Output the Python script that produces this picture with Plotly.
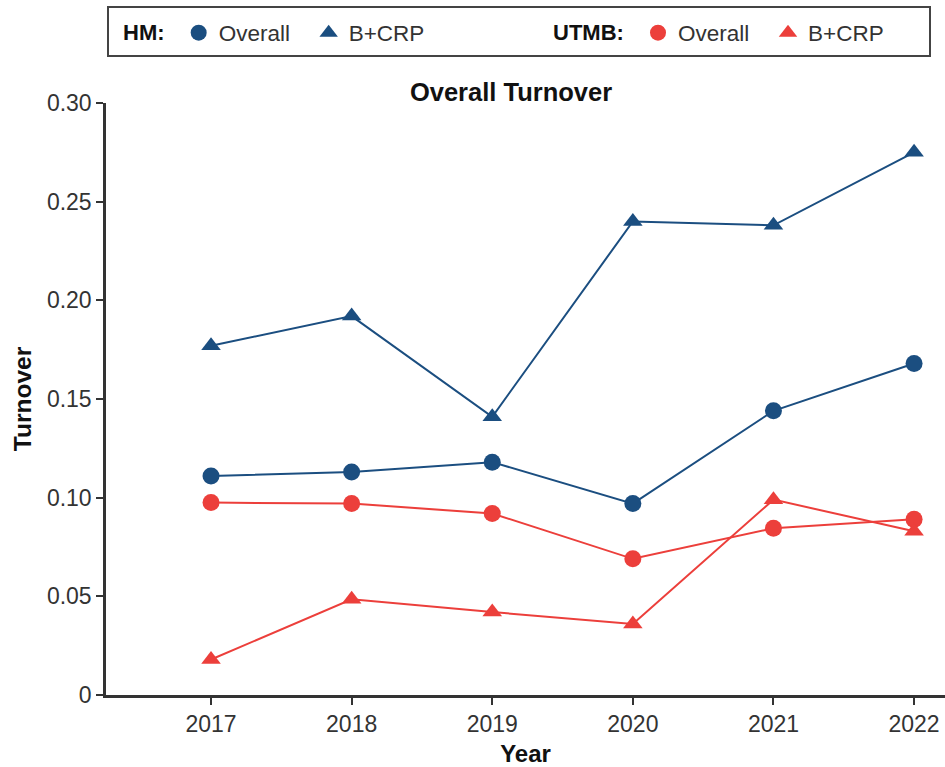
import plotly.graph_objects as go

years = [2017, 2018, 2019, 2020, 2021, 2022]
hm_overall = [0.111, 0.113, 0.118, 0.097, 0.144, 0.168]
hm_bcrp = [0.177, 0.192, 0.141, 0.240, 0.238, 0.275]
utmb_overall = [0.0975, 0.097, 0.092, 0.069, 0.0845, 0.089]
utmb_bcrp = [0.018, 0.0485, 0.042, 0.036, 0.099, 0.083]

y_ticks = [0, 0.05, 0.10, 0.15, 0.20, 0.25, 0.30]
y_ticktext = ["0", "0.05", "0.10", "0.15", "0.20", "0.25", "0.30"]

BLUE = "#1b4e80"
RED = "#ec3f3b"
FONT = "Liberation Sans, Arial, sans-serif"
MS = 17

series = [
    ("Overall", hm_overall, BLUE, "circle", "legend"),
    ("B+CRP", hm_bcrp, BLUE, "triangle-up", "legend"),
    ("Overall", utmb_overall, RED, "circle", "legend2"),
    ("B+CRP", utmb_bcrp, RED, "triangle-up", "legend2"),
]

fig = go.Figure()
for name, vals, color, sym, lg in series:
    fig.add_trace(go.Scatter(x=years, y=vals, name=name, mode="lines+markers",
                             line=dict(color=color, width=2),
                             marker=dict(symbol=sym, size=MS, color=color),
                             showlegend=False, cliponaxis=False))
# legend entries (markers only, as in the reference)
for name, vals, color, sym, lg in series:
    fig.add_trace(go.Scatter(x=[None], y=[None], name=name, mode="markers",
                             marker=dict(symbol=sym, size=MS, color=color),
                             showlegend=True, legend=lg))

L, R, T, B = 106, 0, 103, 72
W, H = 945, 767
pw = W - L - R
ph = H - T - B

def px_x(px):
    return (px - L) / pw

def px_y(py):
    return 1 + (T - py) / ph

legend_common = dict(orientation="h", font=dict(family=FONT, size=22.5, color="#333333"),
                     bgcolor="rgba(0,0,0,0)", borderwidth=0, yanchor="middle",
                     itemsizing="trace", tracegroupgap=0, traceorder="normal",
                     entrywidth=85)

NB = "\u00a0"

fig.update_layout(
    width=W, height=H,
    margin=dict(l=L, r=R, t=T, b=B),
    paper_bgcolor="white", plot_bgcolor="white",
    font=dict(family=FONT, size=22, color="#333333"),
    showlegend=True,
    legend=dict(**legend_common, x=px_x(121), y=px_y(33), xanchor="left",
                title=dict(text="<b>HM:</b>" + NB, side="left",
                           font=dict(family=FONT, size=22, color="#111111"))),
    legend2=dict(**legend_common, x=px_x(551), y=px_y(33), xanchor="left",
                 title=dict(text="<b>UTMB:</b>" + NB, side="left",
                            font=dict(family=FONT, size=22, color="#111111"))),
    title=dict(text="<b>Overall Turnover</b>", x=px_x(511), xref="paper", xanchor="center",
               y=1 - 92 / H, yref="container", yanchor="middle",
               font=dict(family=FONT, size=25.5, color="#111111")),
    xaxis=dict(range=[2016.253, 2022.22], tickvals=years, ticktext=[str(y) for y in years],
               showgrid=False, zeroline=False, showline=True, linecolor="#333333", linewidth=2.5,
               ticks="outside", ticklen=7, tickwidth=2, tickcolor="#333333",
               tickfont=dict(family=FONT, size=23, color="#333333"),
               title=dict(text="<b>Year</b>", standoff=11,
                          font=dict(family=FONT, size=24, color="#111111"))),
    yaxis=dict(range=[0, 0.30], tickvals=y_ticks, ticktext=y_ticktext,
               showgrid=False, zeroline=False, showline=True, linecolor="#333333", linewidth=2.5,
               ticks="outside", ticklen=7, tickwidth=2, tickcolor="#333333",
               tickfont=dict(family=FONT, size=23, color="#333333"),
               title=dict(text="<b>Turnover</b>", standoff=9,
                          font=dict(family=FONT, size=24.5, color="#111111"))),
    shapes=[dict(type="rect", xref="paper", yref="paper",
                 x0=px_x(108), x1=px_x(930), y0=px_y(56), y1=px_y(7),
                 line=dict(color="#444444", width=2), fillcolor="rgba(0,0,0,0)")],
)

fig.write_html("out.html", config={"displayModeBar": False},
               post_script="document.body.style.margin='0px';")
